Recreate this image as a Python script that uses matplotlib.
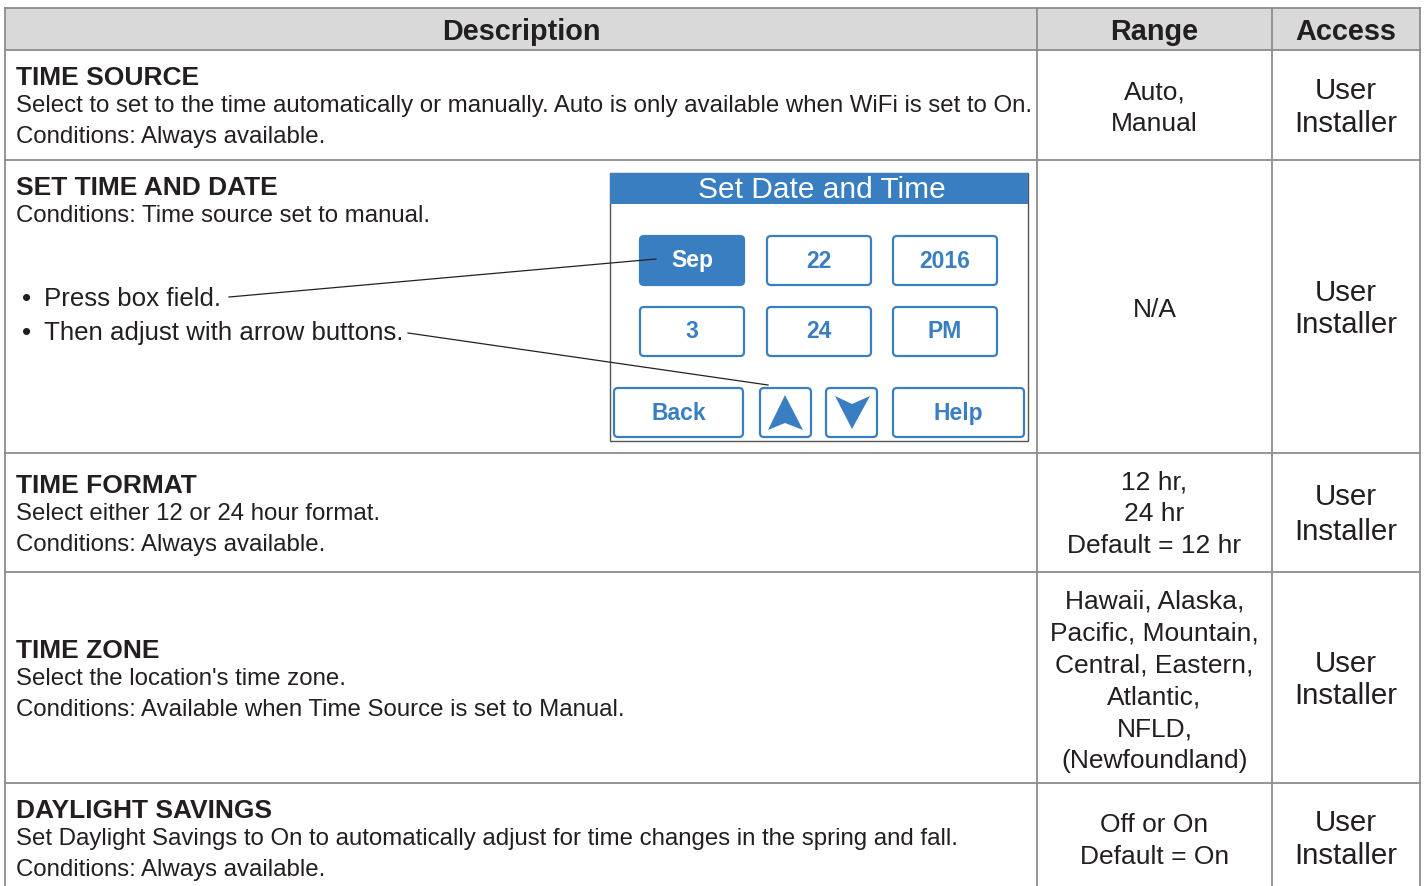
import matplotlib.pyplot as plt
from matplotlib.patches import Rectangle, FancyBboxPatch, Polygon

plt.rcParams['font.family'] = ['Liberation Sans', 'DejaVu Sans']

# table content
headers = ["Description", "Range", "Access"]
titles = ["TIME SOURCE", "SET TIME AND DATE", "TIME FORMAT", "TIME ZONE", "DAYLIGHT SAVINGS"]
details = [
    ["Select to set to the time automatically or manually. Auto is only available when WiFi is set to On.",
     "Conditions: Always available."],
    ["Conditions: Time source set to manual."],
    ["Select either 12 or 24 hour format.", "Conditions: Always available."],
    ["Select the location's time zone.", "Conditions: Available when Time Source is set to Manual."],
    ["Set Daylight Savings to On to automatically adjust for time changes in the spring and fall.",
     "Conditions: Always available."],
]
bullets = ["Press box field.", "Then adjust with arrow buttons."]
ranges = [
    ["Auto,", "Manual"],
    ["N/A"],
    ["12 hr,", "24 hr", "Default = 12 hr"],
    ["Hawaii, Alaska,", "Pacific, Mountain,", "Central, Eastern,", "Atlantic,", "NFLD,", "(Newfoundland)"],
    ["Off or On", "Default = On"],
]
access = [["User", "Installer"]] * 5

screen_title = "Set Date and Time"
screen_rows = [["Sep", "22", "2016"], ["3", "24", "PM"]]
screen_bottom = ["Back", "Help"]

# layout (pixels)
col_x = [5, 1037, 1272, 1420]
row_y = [8, 50, 160, 453, 572, 783, 886]
title_y = [78, 188, 486, 651, 811]
range_start = [92, 310, 482, 601, 825]
range_step = [32, 32, 32, 32, 32]
access_y = [(91, 124), (293, 325), (497, 532), (664, 696), (823, 856)]

TXT = "#231f20"
GRID = "#8c8c8c"
BLUE = "#3a7ec2"

fig = plt.figure(figsize=(14.24, 8.86), dpi=100)
ax = fig.add_axes([0, 0, 1, 1])
ax.set_xlim(0, 1424)
ax.set_ylim(886, 0)
ax.axis("off")

# header background
ax.add_patch(Rectangle((col_x[0], row_y[0]), col_x[-1] - col_x[0], row_y[1] - row_y[0],
                       facecolor="#d9d9da", edgecolor="none"))
# grid
for y in row_y[:-1]:
    ax.plot([col_x[0], col_x[-1]], [y, y], color=GRID, lw=1.3)
for x in col_x:
    ax.plot([x, x], [row_y[0], row_y[-1]], color=GRID, lw=1.3)

hx = [(col_x[0] + col_x[1]) / 2, (col_x[1] + col_x[2]) / 2, (col_x[2] + col_x[3]) / 2]
for h, x in zip(headers, hx):
    ax.text(x, 32, h, ha="center", va="center", fontsize=20.8, fontweight="bold", color=TXT)

for i in range(5):
    ax.text(16, title_y[i], titles[i], ha="left", va="center", fontsize=19,
            fontweight="bold", color=TXT)
    for j, line in enumerate(details[i]):
        ax.text(16, title_y[i] + 28 + 31 * j, line, ha="left", va="center",
                fontsize=17.3, color=TXT)
    for j, line in enumerate(ranges[i]):
        ax.text(hx[1], range_start[i] + range_step[i] * j, line, ha="center", va="center",
                fontsize=19, color=TXT)
    for line, y in zip(access[i], access_y[i]):
        ax.text(hx[2], y, line, ha="center", va="center", fontsize=21.2, color=TXT)

# bullets
bullet_y = [299, 333]
for b, y in zip(bullets, bullet_y):
    ax.text(22, y, "\u2022", ha="left", va="center", fontsize=19, color=TXT)
    ax.text(44, y, b, ha="left", va="center", fontsize=18.6, color=TXT)

# screen mockup
ax.add_patch(Rectangle((610, 173), 418, 268, facecolor="white", edgecolor="#555555", lw=1.0))
ax.add_patch(Rectangle((610, 173), 418, 31, facecolor=BLUE, edgecolor="none"))
ax.text(822, 190, screen_title, ha="center", va="center", fontsize=21.5, color="white")

btn_x = [640, 767, 893]
btn_w = 104
btn_row_y = [236, 307]
for r, labels in enumerate(screen_rows):
    for c, lab in enumerate(labels):
        filled = (r == 0 and c == 0)
        ax.add_patch(FancyBboxPatch((btn_x[c], btn_row_y[r]), btn_w, 49,
                                    boxstyle="round,pad=0,rounding_size=4",
                                    facecolor=BLUE if filled else "white",
                                    edgecolor=BLUE, lw=1.6))
        ax.text(btn_x[c] + btn_w / 2, btn_row_y[r] + 25, lab, ha="center", va="center",
                fontsize=16.5, fontweight="bold", color="white" if filled else BLUE)

bottom_boxes = [(614, 129), (760, 51), (826, 51), (893, 131)]
for (x, w) in bottom_boxes:
    ax.add_patch(FancyBboxPatch((x, 388), w, 49, boxstyle="round,pad=0,rounding_size=4",
                                facecolor="white", edgecolor=BLUE, lw=1.6))
ax.text(614 + 129 / 2, 413, screen_bottom[0], ha="center", va="center",
        fontsize=16.5, fontweight="bold", color=BLUE)
ax.text(893 + 131 / 2, 413, screen_bottom[1], ha="center", va="center",
        fontsize=16.5, fontweight="bold", color=BLUE)
ax.add_patch(Polygon([(785, 395), (803, 430), (785, 423), (768, 430)], closed=True,
                     facecolor=BLUE, edgecolor="none"))
ax.add_patch(Polygon([(835, 396), (852, 404), (870, 396), (852, 429)], closed=True,
                     facecolor=BLUE, edgecolor="none"))

# leader lines
ax.plot([229, 656], [297, 259], color="#222222", lw=0.9)
ax.plot([408, 768], [333, 385], color="#222222", lw=0.9)

fig.savefig("out.png", dpi=100)
